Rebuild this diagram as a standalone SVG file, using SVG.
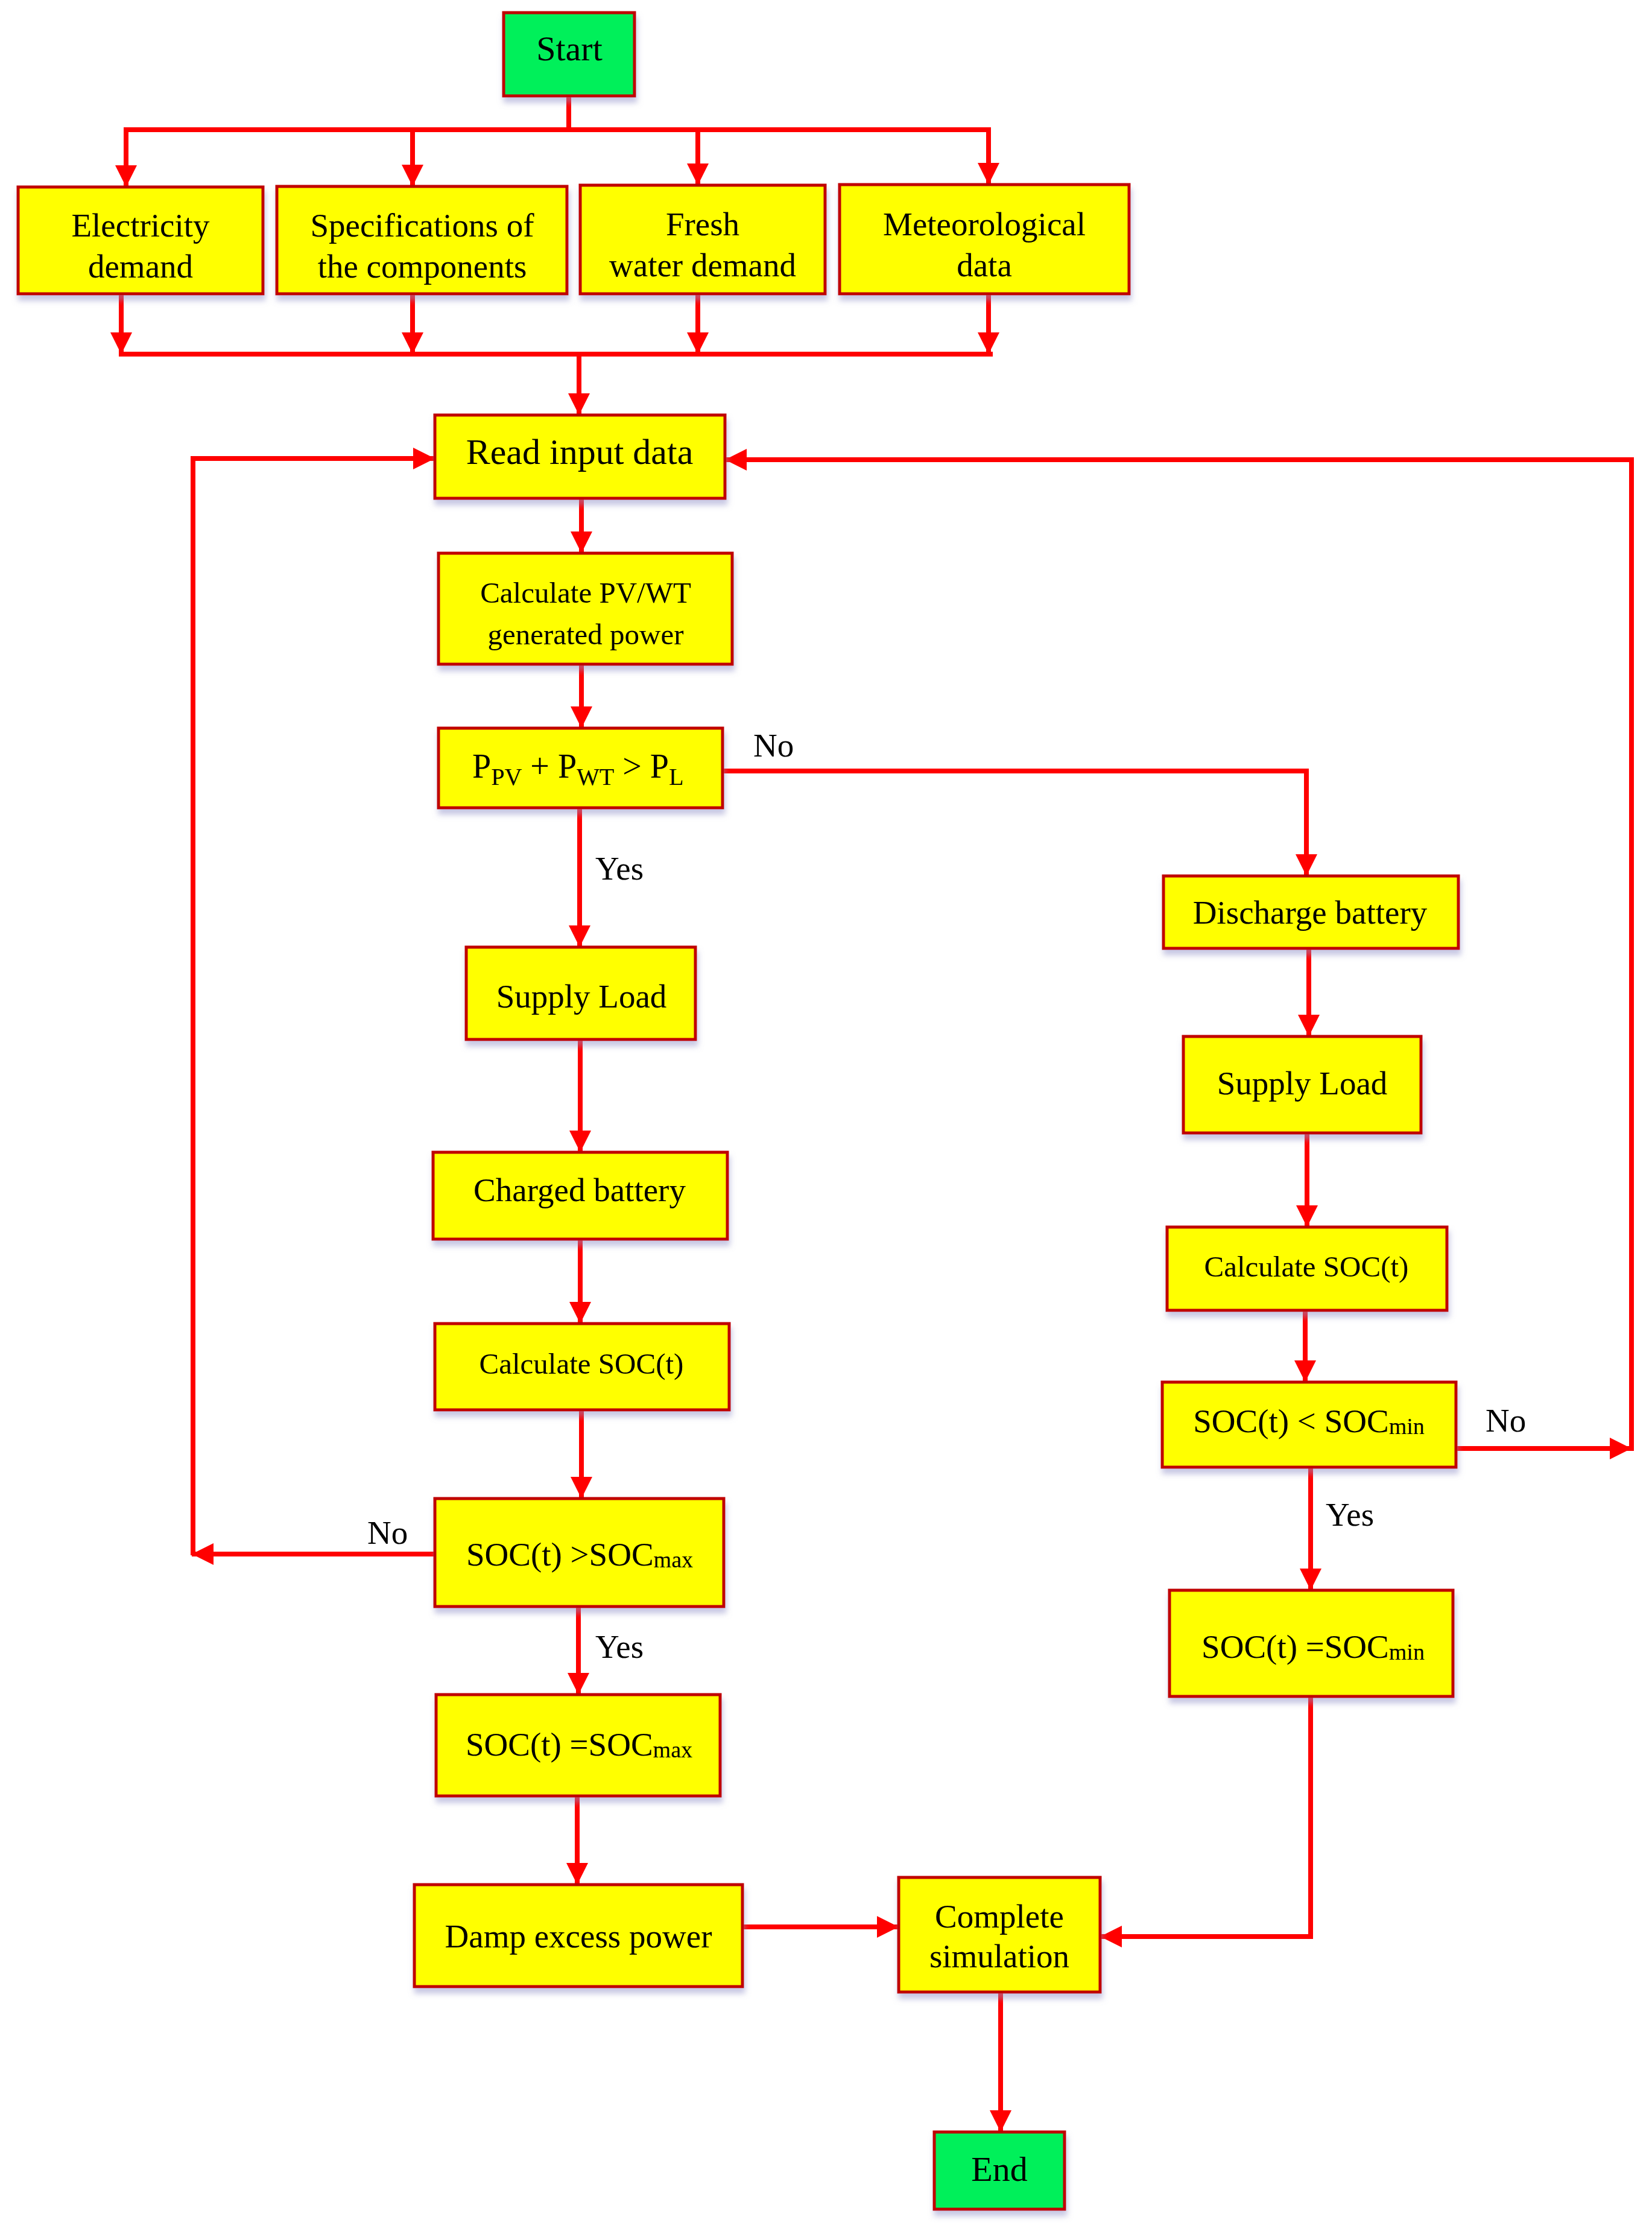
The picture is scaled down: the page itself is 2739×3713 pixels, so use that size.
<svg xmlns="http://www.w3.org/2000/svg" width="2739" height="3713" viewBox="0 0 2739 3713">
<style>
.box{fill:#FFFF00;stroke:#C00000;stroke-width:5}
.term{fill:#00F05A;stroke:#C00000;stroke-width:5}
.t{font-family:"Liberation Serif","Times New Roman",serif;font-size:55px;fill:#000;text-anchor:middle}
.s{font-size:49px}
.lbl{font-family:"Liberation Serif","Times New Roman",serif;font-size:55px;fill:#000}
.c{fill:none;stroke:#FF0000;stroke-width:8}
.a{marker-end:url(#arr)}
</style>
<defs>
<marker id="arr" markerUnits="userSpaceOnUse" markerWidth="38" markerHeight="38" refX="36" refY="18" orient="auto" viewBox="0 0 38 36">
<path d="M0,0 L36,18 L0,36 z" fill="#FF0000"/>
</marker>
<filter id="sh" x="-10%" y="-10%" width="120%" height="130%">
<feDropShadow dx="2" dy="9" stdDeviation="5" flood-color="#9090C8" flood-opacity="0.5"/>
</filter>
</defs>
<rect width="2739" height="3713" fill="#FFFFFF"/>

<g id="connectors">
<path class="c" d="M943,158 V215"/>
<path class="c" d="M205,215 H1643"/>
<path class="c a" d="M209,215 V310"/>
<path class="c a" d="M684,215 V309"/>
<path class="c a" d="M1157,215 V307"/>
<path class="c a" d="M1639,215 V306"/>
<path class="c a" d="M201,487 V587"/>
<path class="c a" d="M684,487 V587"/>
<path class="c a" d="M1157,487 V587"/>
<path class="c a" d="M1639,487 V587"/>
<path class="c" d="M197,587 H1646"/>
<path class="c a" d="M960,587 V688"/>
<path class="c a" d="M964,826 V917"/>
<path class="c a" d="M964,1101 V1207"/>
<path class="c a" d="M1198,1278 H2166 V1452"/>
<path class="c a" d="M961,1339 V1570"/>
<path class="c a" d="M962,1723 V1910"/>
<path class="c a" d="M962,2054 V2194"/>
<path class="c a" d="M964,2337 V2484"/>
<path class="c a" d="M721,2576 H318"/>
<path class="c a" d="M320,2578 V760 H721"/>
<path class="c a" d="M959,2663 V2809"/>
<path class="c a" d="M957,2977 V3124"/>
<path class="c a" d="M1231,3194 H1490"/>
<path class="c a" d="M2170,1572 V1718"/>
<path class="c a" d="M2167,1878 V2034"/>
<path class="c a" d="M2164,2172 V2291"/>
<path class="c a" d="M2414,2401 H2705"/>
<path class="c a" d="M2705,2405 V762 H1202"/>
<path class="c a" d="M2173,2432 V2636"/>
<path class="c a" d="M2173,2812 V3210 H1824"/>
<path class="c a" d="M1659,3302 V3534"/>
<text class="lbl" x="1249" y="1254">No</text>
<text class="lbl" x="987" y="1458">Yes</text>
<text class="lbl" x="609" y="2559">No</text>
<text class="lbl" x="987" y="2748">Yes</text>
<text class="lbl" x="2463" y="2373">No</text>
<text class="lbl" x="2198" y="2529">Yes</text>
</g>

<g id="start"><rect class="term" filter="url(#sh)" x="835" y="21" width="217" height="138"/><text class="t" x="944" y="100" style="font-size:58px">Start</text></g>

<g id="electricity"><rect class="box" filter="url(#sh)" x="30" y="310" width="406" height="177"/><text class="t" x="233" y="392">Electricity</text><text class="t" x="233" y="460">demand</text></g>
<g id="specs"><rect class="box" filter="url(#sh)" x="459" y="309" width="481" height="178"/><text class="t" x="700" y="392">Specifications of</text><text class="t" x="700" y="460">the components</text></g>
<g id="water"><rect class="box" filter="url(#sh)" x="962" y="307" width="406" height="180"/><text class="t" x="1165" y="390">Fresh</text><text class="t" x="1165" y="458">water demand</text></g>
<g id="meteo"><rect class="box" filter="url(#sh)" x="1392" y="306" width="480" height="181"/><text class="t" x="1632" y="390">Meteorological</text><text class="t" x="1632" y="458">data</text></g>

<g id="read"><rect class="box" filter="url(#sh)" x="721" y="688" width="481" height="138"/><text class="t" x="961" y="769" style="font-size:60px">Read input data</text></g>
<g id="calcpv"><rect class="box" filter="url(#sh)" x="727" y="917" width="487" height="184"/><text class="t s" x="971" y="999">Calculate PV/WT</text><text class="t s" x="971" y="1068">generated power</text></g>
<g id="cond1"><rect class="box" filter="url(#sh)" x="727" y="1207" width="471" height="132"/><text class="lbl" x="783" y="1289" style="font-size:56px">P<tspan dy="12" style="font-size:40px">PV</tspan><tspan dy="-12"> + P</tspan><tspan dy="12" style="font-size:40px">WT</tspan><tspan dy="-12"> &gt; P</tspan><tspan dy="12" style="font-size:40px">L</tspan></text></g>

<g id="supply1"><rect class="box" filter="url(#sh)" x="773" y="1570" width="380" height="153"/><text class="t" x="964" y="1670">Supply Load</text></g>
<g id="charged"><rect class="box" filter="url(#sh)" x="718" y="1910" width="488" height="144"/><text class="t" x="961" y="1991">Charged battery</text></g>
<g id="calcsoc1"><rect class="box" filter="url(#sh)" x="721" y="2194" width="488" height="143"/><text class="t s" x="964" y="2277">Calculate SOC(t)</text></g>
<g id="condmax"><rect class="box" filter="url(#sh)" x="721" y="2484" width="479" height="179"/><text class="t" x="961" y="2595">SOC(t) &gt;SOC<tspan dy="3" style="font-size:38px">max</tspan></text></g>
<g id="setmax"><rect class="box" filter="url(#sh)" x="723" y="2809" width="471" height="168"/><text class="t" x="960" y="2910">SOC(t) =SOC<tspan dy="3" style="font-size:38px">max</tspan></text></g>
<g id="damp"><rect class="box" filter="url(#sh)" x="687" y="3124" width="544" height="169"/><text class="t" x="959" y="3228">Damp excess power</text></g>

<g id="discharge"><rect class="box" filter="url(#sh)" x="1929" y="1452" width="489" height="120"/><text class="t" x="2172" y="1531">Discharge battery</text></g>
<g id="supply2"><rect class="box" filter="url(#sh)" x="1962" y="1718" width="394" height="160"/><text class="t" x="2159" y="1814">Supply Load</text></g>
<g id="calcsoc2"><rect class="box" filter="url(#sh)" x="1935" y="2034" width="464" height="138"/><text class="t s" x="2166" y="2116">Calculate SOC(t)</text></g>
<g id="condmin"><rect class="box" filter="url(#sh)" x="1927" y="2291" width="487" height="141"/><text class="t" x="2170" y="2374">SOC(t) &lt; SOC<tspan dy="3" style="font-size:38px">min</tspan></text></g>
<g id="setmin"><rect class="box" filter="url(#sh)" x="1939" y="2636" width="470" height="176"/><text class="t" x="2177" y="2748">SOC(t) =SOC<tspan dy="3" style="font-size:38px">min</tspan></text></g>

<g id="complete"><rect class="box" filter="url(#sh)" x="1490" y="3112" width="334" height="190"/><text class="t" x="1657" y="3195">Complete</text><text class="t" x="1657" y="3261">simulation</text></g>
<g id="end"><rect class="term" filter="url(#sh)" x="1549" y="3534" width="216" height="128"/><text class="t" x="1657" y="3615" style="font-size:58px">End</text></g>
</svg>
